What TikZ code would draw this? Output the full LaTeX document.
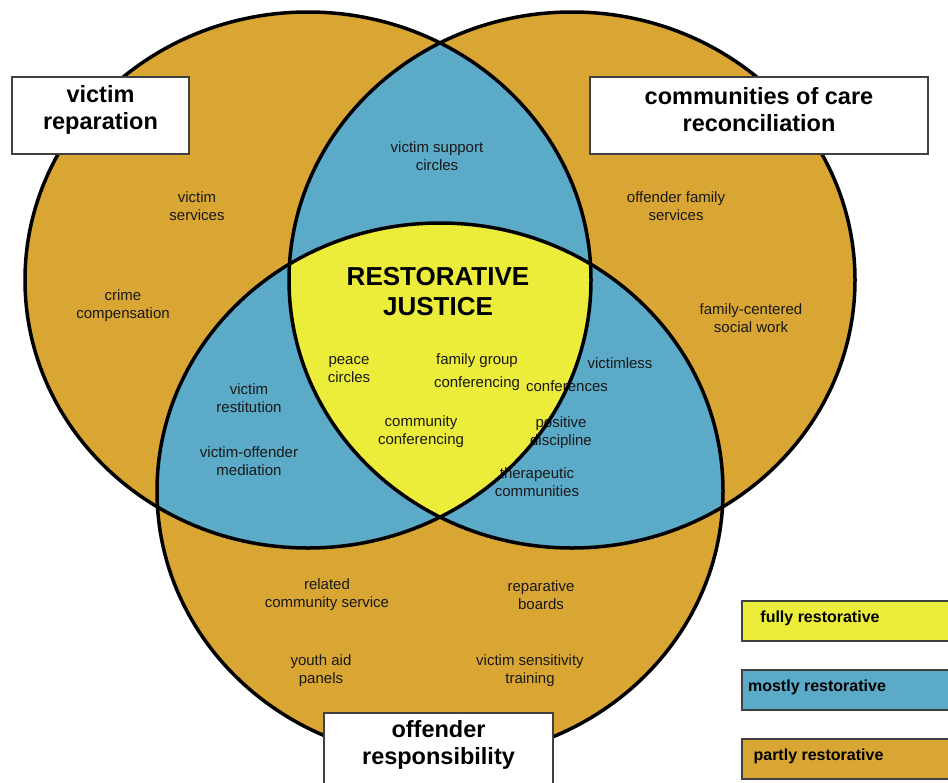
\documentclass[tikz,border=0pt]{standalone}
\usepackage{fontspec}
\setmainfont{Liberation Sans}
\definecolor{gold}{RGB}{217,166,51}
\definecolor{rjblue}{RGB}{91,170,199}
\definecolor{rjyellow}{RGB}{236,236,58}
\begin{document}
\begin{tikzpicture}[x=1pt,y=-1pt,
  lbl/.style={font=\fontsize{15}{18}\selectfont, align=center, inner sep=0pt, text=black!90},
  ttl/.style={font=\fontsize{23.5}{27}\selectfont\bfseries, align=center, inner sep=0pt},
  rj/.style={font=\fontsize{26}{30}\selectfont\bfseries, align=center, inner sep=0pt},
  leg/.style={font=\fontsize{16}{19}\selectfont\bfseries, inner sep=0pt},
  boxst/.style={draw=black!75, line width=1.5pt, fill=white, inner sep=0pt},
  legbox/.style={draw=black!75, line width=1.5pt, inner sep=0pt, anchor=north west, minimum width=230pt, minimum height=40pt},
  ring/.style={line width=3.5pt, draw=black}]
\useasboundingbox (0,0) rectangle (948,782);
\clip (0,0) rectangle (948,782);
\def\EL{ellipse [x radius=283, y radius=268]}
% gold base
\fill[gold] (308,280) \EL;
\fill[gold] (572,280) \EL;
\fill[gold] (440,491) \EL;
% pairwise blue
\begin{scope}\clip (308,280) \EL; \fill[rjblue] (572,280) \EL; \end{scope}
\begin{scope}\clip (308,280) \EL; \fill[rjblue] (440,491) \EL; \end{scope}
\begin{scope}\clip (572,280) \EL; \fill[rjblue] (440,491) \EL; \end{scope}
% triple yellow
\begin{scope}\clip (308,280) \EL; \clip (572,280) \EL; \fill[rjyellow] (440,491) \EL; \end{scope}
% texts
\node[lbl] (vs) at (197,206) {victim\\services};
\node[lbl] (cc) at (123,306) {crime\\compensation};
\node[lbl] (vsc) at (437,156) {victim support\\circles};
\node[rj] (rjt) at (438,292) {RESTORATIVE\\JUSTICE};
\node[lbl] (pc) at (349,370) {peace\\circles};
\node[lbl, font=\fontsize{15}{23}\selectfont] (fgc) at (477,372) {family group\\conferencing};
\node[lbl] (vl) at (620,363) {victimless};
\node[lbl] (conf) at (567,386) {conferences};
\node[lbl] (comc) at (421,432) {community\\conferencing};
\node[lbl] (pd) at (561,433) {positive\\discipline};
\node[lbl] (tc) at (537,482) {therapeutic\\communities};
\node[lbl] (vr) at (249,398) {victim\\restitution};
\node[lbl] (vom) at (249,461) {victim-offender\\mediation};
\node[lbl] (ofs) at (676,206) {offender family\\services};
\node[lbl] (fcs) at (751,318) {family-centered\\social work};
\node[lbl] (rcs) at (327,595) {related\\community service};
\node[lbl] (yap) at (321,671) {youth aid\\panels};
\node[lbl] (rb) at (541,595) {reparative\\boards};
\node[lbl] (vst) at (530,671) {victim sensitivity\\training};
% outlines
\draw[ring] (308,280) \EL;
\draw[ring] (572,280) \EL;
\draw[ring] (440,491) \EL;
% title boxes
\node[boxst, minimum width=177pt, minimum height=77pt] (vbox) at (100.5,115.5) {};
\node[ttl] (vtxt) at (100.5,110) {victim\\reparation};
\node[boxst, minimum width=338pt, minimum height=77pt] (cbox) at (759,115.5) {};
\node[ttl] (ctxt) at (759,110) {communities of care\\reconciliation};
\node[boxst, minimum width=229pt, minimum height=100pt] (obox) at (438.5,763) {};
\node[ttl] (otxt) at (438.5,745) {offender\\responsibility};
% legend
\node[legbox, fill=rjyellow] (lf) at (741,600) {};
\node[leg] (lft) at (820,618) {fully restorative};
\node[legbox, fill=rjblue] (lm) at (741,669) {};
\node[leg] (lmt) at (817,687) {mostly restorative};
\node[legbox, fill=gold] (lp) at (741,738) {};
\node[leg] (lpt) at (818.5,756) {partly restorative};
\end{tikzpicture}
\end{document}
